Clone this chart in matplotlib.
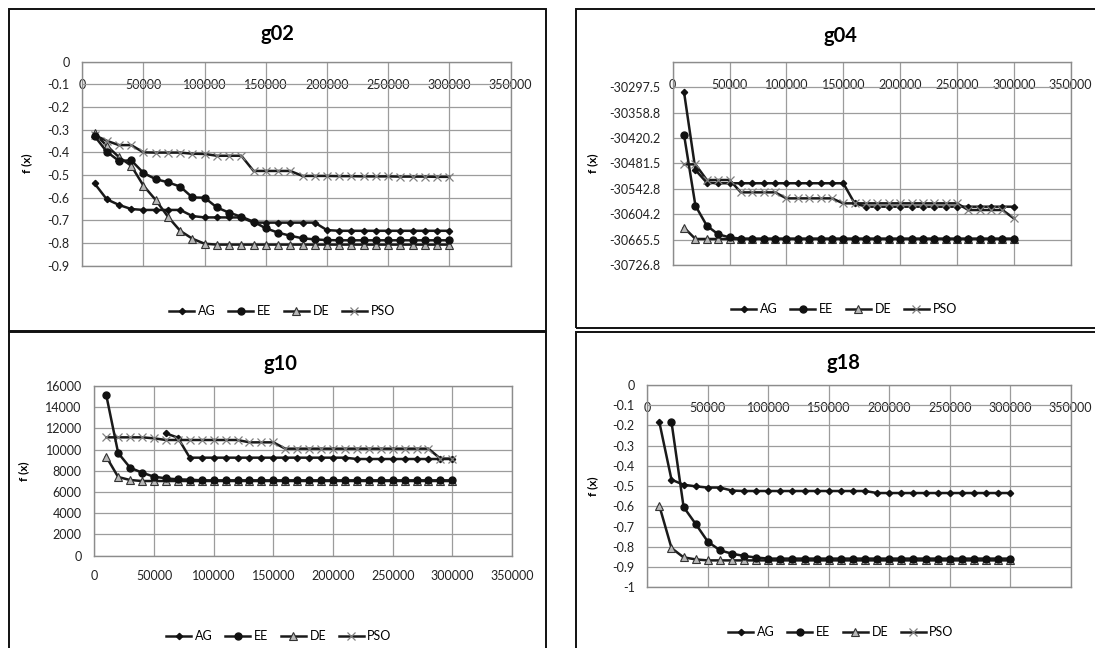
import numpy as np
import matplotlib
matplotlib.use('Agg')
import matplotlib.pyplot as plt
from matplotlib.patches import Rectangle

plt.rcParams['font.family'] = ['Lato', 'DejaVu Sans']

nan = np.nan
W, H = 1095, 648

# evaluations (x axis)
evals = [10000, 20000, 30000, 40000, 50000, 60000, 70000, 80000, 90000, 100000,
         110000, 120000, 130000, 140000, 150000, 160000, 170000, 180000, 190000, 200000,
         210000, 220000, 230000, 240000, 250000, 260000, 270000, 280000, 290000, 300000]
x_ticks = [0, 50000, 100000, 150000, 200000, 250000, 300000, 350000]
x_tick_labels = ['0', '50000', '100000', '150000', '200000', '250000', '300000', '350000']
series_names = ['AG', 'EE', 'DE', 'PSO']

# g02
g02_ag = [-0.537, -0.607, -0.632, -0.650, -0.654, -0.654, -0.654, -0.654, -0.681, -0.687,
          -0.687, -0.687, -0.687, -0.710, -0.710, -0.710, -0.710, -0.710, -0.710, -0.743,
          -0.746, -0.746, -0.746, -0.746, -0.746, -0.746, -0.746, -0.746, -0.746, -0.746]
g02_ee = [-0.328, -0.397, -0.438, -0.435, -0.491, -0.518, -0.532, -0.551, -0.599, -0.600,
          -0.643, -0.666, -0.684, -0.706, -0.735, -0.754, -0.768, -0.779, -0.784, -0.787,
          -0.788, -0.788, -0.788, -0.788, -0.788, -0.788, -0.788, -0.788, -0.788, -0.788]
g02_de = [-0.316, -0.371, -0.421, -0.459, -0.547, -0.610, -0.684, -0.746, -0.781, -0.803,
          -0.807, -0.807, -0.807, -0.807, -0.807, -0.807, -0.807, -0.807, -0.807, -0.807,
          -0.807, -0.807, -0.807, -0.807, -0.807, -0.807, -0.807, -0.807, -0.807, -0.807]
g02_pso = [-0.324, -0.349, -0.368, -0.368, -0.400, -0.401, -0.401, -0.401, -0.406, -0.407,
           -0.415, -0.415, -0.415, -0.482, -0.482, -0.482, -0.482, -0.504, -0.504, -0.504,
           -0.505, -0.505, -0.506, -0.506, -0.506, -0.507, -0.507, -0.507, -0.508, -0.508]
g02_yticks = [0, -0.1, -0.2, -0.3, -0.4, -0.5, -0.6, -0.7, -0.8, -0.9]
g02_ylabels = ['0', '-0.1', '-0.2', '-0.3', '-0.4', '-0.5', '-0.6', '-0.7', '-0.8', '-0.9']

# g04
g04_ag = [-30310.2, -30497.6, -30528.2, -30529.5, -30529.5, -30529.5, -30529.5, -30529.5,
          -30529.5, -30529.5, -30529.5, -30529.5, -30529.5, -30529.5, -30529.5, -30578.0,
          -30586.1, -30586.1, -30586.1, -30586.1, -30586.1, -30586.1, -30586.1, -30586.1,
          -30586.1, -30586.1, -30586.1, -30586.1, -30586.1, -30586.1]
g04_ee = [-30413.2, -30583.7, -30631.9, -30652.8, -30660.1, -30663.3, -30663.3, -30663.3,
          -30663.3, -30663.3, -30663.3, -30663.3, -30663.3, -30663.3, -30663.3, -30663.3,
          -30663.3, -30663.3, -30663.3, -30663.3, -30663.3, -30663.3, -30663.3, -30663.3,
          -30663.3, -30663.3, -30663.3, -30663.3, -30663.3, -30663.3]
g04_de = [-30636.7, -30664.0, -30664.0, -30664.0, -30664.0, -30664.0, -30664.0, -30664.0,
          -30664.0, -30664.0, -30664.0, -30664.0, -30664.0, -30664.0, -30664.0, -30664.0,
          -30664.0, -30664.0, -30664.0, -30664.0, -30664.0, -30664.0, -30664.0, -30664.0,
          -30664.0, -30664.0, -30664.0, -30664.0, -30664.0, -30664.0]
g04_pso = [-30483.9, -30483.9, -30521.7, -30521.7, -30521.7, -30551.5, -30551.5, -30551.5,
           -30551.5, -30566.0, -30566.0, -30566.0, -30566.0, -30566.0, -30578.0, -30578.0,
           -30578.0, -30578.0, -30578.0, -30578.0, -30578.0, -30578.0, -30578.0, -30578.0,
           -30578.0, -30594.1, -30594.1, -30594.1, -30594.1, -30614.2]
g04_yticks = [-30236.2, -30297.5, -30358.8, -30420.2, -30481.5, -30542.8, -30604.2,
              -30665.5, -30726.8]
g04_ylabels = ['', '-30297.5', '-30358.8', '-30420.2', '-30481.5', '-30542.8', '-30604.2',
               '-30665.5', '-30726.8']

# g10
g10_ag = [nan, nan, nan, nan, nan, 11540, 11128, 9242, 9242, 9242,
          9242, 9242, 9242, 9242, 9242, 9242, 9242, 9242, 9242, 9242,
          9242, 9117, 9117, 9117, 9117, 9117, 9117, 9117, 9117, 9117]
g10_ee = [15152, 9682, 8299, 7828, 7450, 7293, 7199, 7168, 7105, 7105,
          7105, 7105, 7105, 7105, 7105, 7105, 7105, 7105, 7105, 7105,
          7105, 7105, 7105, 7105, 7105, 7105, 7105, 7105, 7105, 7105]
g10_de = [9337, 7419, 7136, 7042, 7042, 7042, 7042, 7042, 7042, 7042,
          7042, 7042, 7042, 7042, 7042, 7042, 7042, 7042, 7042, 7042,
          7042, 7042, 7042, 7042, 7042, 7042, 7042, 7042, 7042, 7042]
g10_pso = [11160, 11160, 11160, 11160, 11066, 10909, 10909, 10909, 10909, 10909,
           10909, 10909, 10688, 10688, 10688, 10091, 10091, 10091, 10091, 10091,
           10091, 10091, 10091, 10091, 10091, 10091, 10091, 10091, 9148, 9148]
g10_yticks = [0, 2000, 4000, 6000, 8000, 10000, 12000, 14000, 16000]
g10_ylabels = ['0', '2000', '4000', '6000', '8000', '10000', '12000', '14000', '16000']

# g18 (PSO has no values)
g18_ag = [-0.185, -0.468, -0.493, -0.501, -0.507, -0.507, -0.522, -0.524, -0.524, -0.524,
          -0.524, -0.524, -0.524, -0.524, -0.524, -0.524, -0.524, -0.524, -0.534, -0.534,
          -0.534, -0.534, -0.534, -0.534, -0.534, -0.534, -0.534, -0.534, -0.534, -0.534]
g18_ee = [nan, -0.183, -0.603, -0.687, -0.774, -0.817, -0.834, -0.845, -0.853, -0.858,
          -0.858, -0.858, -0.858, -0.858, -0.858, -0.858, -0.858, -0.858, -0.858, -0.858,
          -0.858, -0.858, -0.858, -0.858, -0.858, -0.858, -0.858, -0.858, -0.858, -0.858]
g18_de = [-0.598, -0.806, -0.852, -0.862, -0.867, -0.867, -0.867, -0.867, -0.867, -0.867,
          -0.867, -0.867, -0.867, -0.867, -0.867, -0.867, -0.867, -0.867, -0.867, -0.867,
          -0.867, -0.867, -0.867, -0.867, -0.867, -0.867, -0.867, -0.867, -0.867, -0.867]
g18_pso = []
g18_yticks = [0, -0.1, -0.2, -0.3, -0.4, -0.5, -0.6, -0.7, -0.8, -0.9, -1]
g18_ylabels = ['0', '-0.1', '-0.2', '-0.3', '-0.4', '-0.5', '-0.6', '-0.7', '-0.8', '-0.9', '-1']

styles = {
    'AG':  dict(marker='D', ms=3.2, mfc='#111111', mec='#111111', zorder=3),
    'EE':  dict(marker='o', ms=5, mfc='#111111', mec='#111111', zorder=4),
    'DE':  dict(marker='^', ms=5.2, mfc='#b8b8b8', mec='#333333', mew=0.8, zorder=2.5),
    'PSO': dict(marker='x', ms=6, mec='#808080', mew=0.9, zorder=3.5),
}

# layout in pixels: box, axes, title centre, legend centre, ylabel x (axes frac)
panels = [
    dict(title='g02', data=[g02_ag, g02_ee, g02_de, g02_pso], ylim=(-0.9, 0),
         yticks=g02_yticks, ylabels=g02_ylabels, top=True,
         box=(9, 8.5, 546, 330.5), ax=(82.3, 61.7, 510.5, 265.7),
         tpos=(277, 33.5), lpos=(282, 311), ylx=-0.1175),
    dict(title='g04', data=[g04_ag, g04_ee, g04_de, g04_pso], ylim=(-30726.8, -30236.2),
         yticks=g04_yticks, ylabels=g04_ylabels, top=True,
         box=(575.5, 8.5, 1100, 328.3), ax=(672.7, 61.7, 1070.7, 265),
         tpos=(840, 36.5), lpos=(844, 309), ylx=-0.188),
    dict(title='g10', data=[g10_ag, g10_ee, g10_de, g10_pso], ylim=(0, 16000),
         yticks=g10_yticks, ylabels=g10_ylabels, top=False,
         box=(9, 332.3, 546, 660), ax=(94.3, 386, 512, 555.7),
         tpos=(280, 364), lpos=(279, 636), ylx=-0.156),
    dict(title='g18', data=[g18_ag, g18_ee, g18_de, g18_pso], ylim=(-1, 0),
         yticks=g18_yticks, ylabels=g18_ylabels, top=True,
         box=(575.5, 332.3, 1100, 660), ax=(647.3, 385, 1070.7, 587.3),
         tpos=(843, 363), lpos=(841, 632), ylx=-0.116),
]

fig = plt.figure(figsize=(W / 100, H / 100), dpi=100, facecolor='white')

for p in panels:
    x0, y0, x1, y1 = p['box']
    fig.add_artist(Rectangle((x0 / W, 1 - y1 / H), (x1 - x0) / W, (y1 - y0) / H,
                             transform=fig.transFigure, fill=False, ec='#111111', lw=1.4))
    a0, b0, a1, b1 = p['ax']
    ax = fig.add_axes([a0 / W, 1 - b1 / H, (a1 - a0) / W, (b1 - b0) / H])
    for name, vals in zip(series_names, p['data']):
        xs = evals[:len(vals)]
        ax.plot(xs, vals, color='#1a1a1a', lw=1.8, label=name, **styles[name])
    ax.set_xlim(0, 350000)
    ax.set_ylim(*p['ylim'])
    ax.set_xticks(x_ticks)
    ax.set_xticklabels(x_tick_labels)
    ax.set_yticks(p['yticks'])
    ax.set_yticklabels(p['ylabels'])
    if p['top']:
        ax.xaxis.tick_top()
        ax.tick_params(axis='x', length=0, pad=-21)
    else:
        ax.tick_params(axis='x', length=0, pad=10)
    ax.tick_params(axis='y', length=0, pad=9)
    ax.tick_params(labelsize=9, labelcolor='#222222')
    ax.grid(True, color='#9c9c9c', lw=0.9)
    ax.set_axisbelow(True)
    for s in ax.spines.values():
        s.set_color('#8c8c8c')
        s.set_linewidth(1)
    ax.set_ylabel('f (x)', fontsize=8.5, fontweight='bold')
    ax.yaxis.set_label_coords(p['ylx'], 0.5)
    fig.text(p['tpos'][0] / W, 1 - p['tpos'][1] / H, p['title'], ha='center', va='center',
             fontsize=14.5, fontweight='bold')
    ax.legend(loc='center', bbox_to_anchor=(p['lpos'][0] / W, 1 - p['lpos'][1] / H),
              bbox_transform=fig.transFigure, ncol=4, frameon=False, fontsize=9,
              handlelength=2.0, handletextpad=0.3, columnspacing=1.0)

fig.savefig('out.png', dpi=100, facecolor='white')
